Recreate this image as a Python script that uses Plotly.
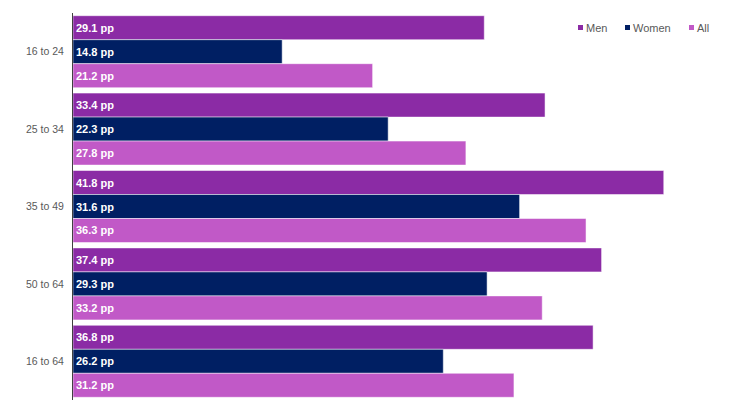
import plotly.graph_objects as go

categories = ["16 to 24", "25 to 34", "35 to 49", "50 to 64", "16 to 64"]
men = [29.1, 33.4, 41.8, 37.4, 36.8]
women = [14.8, 22.3, 31.6, 29.3, 26.2]
all_ = [21.2, 27.8, 36.3, 33.2, 31.2]
series_names = ["Men", "Women", "All"]
series_colors = ["#8B2BA5", "#001F63", "#C159C7"]
series_values = [men, women, all_]

W, H = 739, 408
ML, MR, MT, MB = 73, 18, 13, 8
PW, PH = W - ML - MR, H - MT - MB

def px_x(px):
    return (px - ML) / PW

def px_y(py):
    return (H - MB - py) / PH

fig = go.Figure()
for name, vals, col in zip(series_names, series_values, series_colors):
    fig.add_trace(go.Bar(
        y=categories, x=vals, name=name, orientation="h",
        marker=dict(color=col, line=dict(color="white", width=0.5)),
        text=[f"{v:.1f} pp" for v in vals],
        textposition="inside", insidetextanchor="start",
        textfont=dict(family="Liberation Sans, Arial", size=11, color="white", weight="bold"),
        hoverinfo="skip", showlegend=False,
    ))

# legend (small squares beside labels, as in the reference)
legend_sq_left = [578, 625, 689]
legend_txt_left = [585, 632, 696]
legend_y = 27.5
shapes, annotations = [], []
for name, col, sx, tx in zip(series_names, series_colors, legend_sq_left, legend_txt_left):
    shapes.append(dict(type="rect", xref="paper", yref="paper",
                       x0=px_x(sx), x1=px_x(sx + 5), y0=px_y(legend_y + 2.5), y1=px_y(legend_y - 2.5),
                       fillcolor=col, line=dict(width=0)))
    annotations.append(dict(text=name, xref="paper", yref="paper", x=px_x(tx), y=px_y(legend_y),
                            xanchor="left", yanchor="middle", showarrow=False,
                            font=dict(size=11, color="#595959"), xshift=-1))

fig.update_layout(
    width=W, height=H,
    margin=dict(l=ML, r=MR, t=MT, b=MB, autoexpand=False),
    barmode="group", bargap=0.07, bargroupgap=0,
    plot_bgcolor="white", paper_bgcolor="white",
    font=dict(family="Liberation Sans, Arial", size=11, color="#595959"),
    showlegend=False,
    shapes=shapes, annotations=annotations,
    uniformtext=dict(mode="show", minsize=11),
)
fig.update_xaxes(range=[0, 45.85], visible=False, showgrid=False, zeroline=False)
fig.update_yaxes(autorange="reversed", showline=True, linecolor="#404040", linewidth=1,
                 ticks="", ticklabelstandoff=6, showgrid=False, automargin=False,
                 tickfont=dict(size=10.5, color="#595959"))

fig.write_html("out.html", config={"displayModeBar": False},
               post_script="document.body.style.margin='0';")
